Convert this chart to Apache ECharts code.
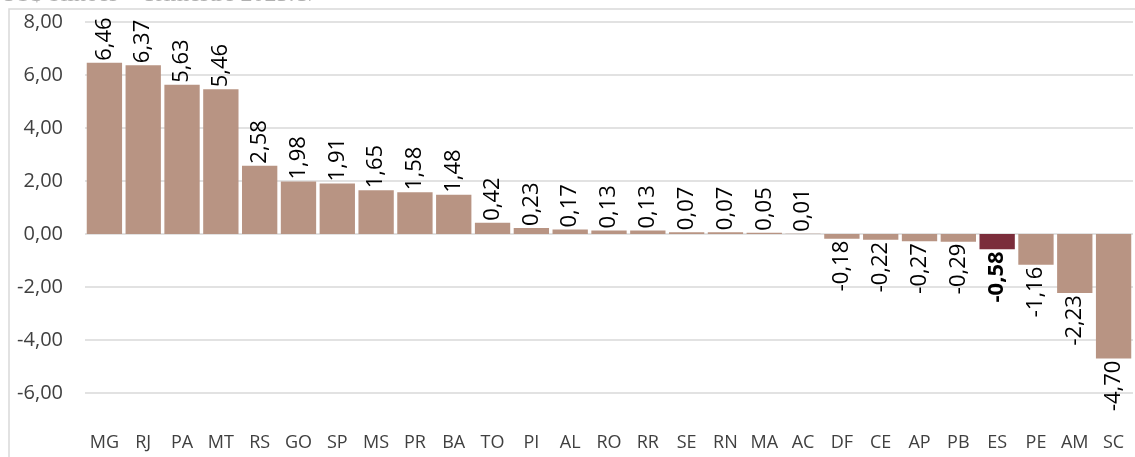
<!DOCTYPE html>
<html>
<head>
<meta charset="utf-8">
<script src="https://cdn.jsdelivr.net/npm/echarts@6/dist/echarts.min.js"></script>
<style>
  html, body { margin: 0; padding: 0; background: #fff; }
  #main { width: 1135px; height: 457px; }
</style>
</head>
<body>
<div id="main"></div>
<script>
// estados e saldo (US$ bilhões)
var estados = ["MG", "RJ", "PA", "MT", "RS", "GO", "SP", "MS", "PR", "BA", "TO", "PI", "AL", "RO",
  "RR", "SE", "RN", "MA", "AC", "DF", "CE", "AP", "PB", "ES", "PE", "AM", "SC"];
var valores = [6.46, 6.37, 5.63, 5.46, 2.58, 1.98, 1.91, 1.65, 1.58, 1.48, 0.42, 0.23, 0.17, 0.13,
  0.13, 0.07, 0.07, 0.05, 0.01, -0.18, -0.22, -0.27, -0.29, -0.58, -1.16, -2.23, -4.70];
var destaque = "ES";

function fmt(v) {
  return v.toFixed(2).replace(".", ",");
}

var barData = [];
for (var i = 0; i < valores.length; i++) {
  var v = valores[i];
  var isDest = estados[i] === destaque;
  barData.push({
    value: v,
    itemStyle: { color: isDest ? "#7b2d3b" : "#b89483" },
    label: {
      position: v >= 0 ? "top" : "bottom",
      align: v >= 0 ? "left" : "right",
      fontWeight: isDest ? "bold" : "normal"
    }
  });
}

var myChart = echarts.init(document.getElementById("main"));
myChart.setOption({
  animation: false,
  graphic: [
    {
      type: "rect",
      shape: { x: 9, y: 9, width: 1200, height: 500 },
      style: { fill: "none", stroke: "#d9d9d9", lineWidth: 1.5 }
    },
    {
      type: "text",
      left: 0,
      top: -17,
      style: {
        text: "US$ bilhões – Trimestre 2023.T/",
        fill: "#b0b0b0",
        font: "24px 'Liberation Serif'"
      }
    }
  ],
  grid: {
    left: 85,
    right: 2,
    top: 22,
    bottom: 64
  },
  xAxis: {
    type: "category",
    data: estados,
    position: "bottom",
    axisLine: { show: false, onZero: false },
    axisTick: { show: false },
    axisLabel: {
      interval: 0,
      margin: 41,
      color: "#404040",
      fontSize: 18,
      fontFamily: "Open Sans"
    }
  },
  yAxis: {
    type: "value",
    min: -6,
    max: 8,
    interval: 2,
    axisLine: { show: false },
    axisTick: { show: false },
    splitLine: {
      lineStyle: { color: "#d9d9d9", width: 1.5 }
    },
    axisLabel: {
      margin: 22,
      color: "#404040",
      fontSize: 20,
      fontFamily: "Open Sans",
      formatter: function (v) { return fmt(v); }
    }
  },
  series: [
    {
      type: "bar",
      data: barData,
      barCategoryGap: "9%",
      label: {
        show: true,
        rotate: 90,
        distance: 2,
        verticalAlign: "middle",
        color: "#000",
        fontSize: 22,
        fontFamily: "Open Sans",
        formatter: function (p) { return fmt(p.value); }
      }
    }
  ]
});
</script>
</body>
</html>
